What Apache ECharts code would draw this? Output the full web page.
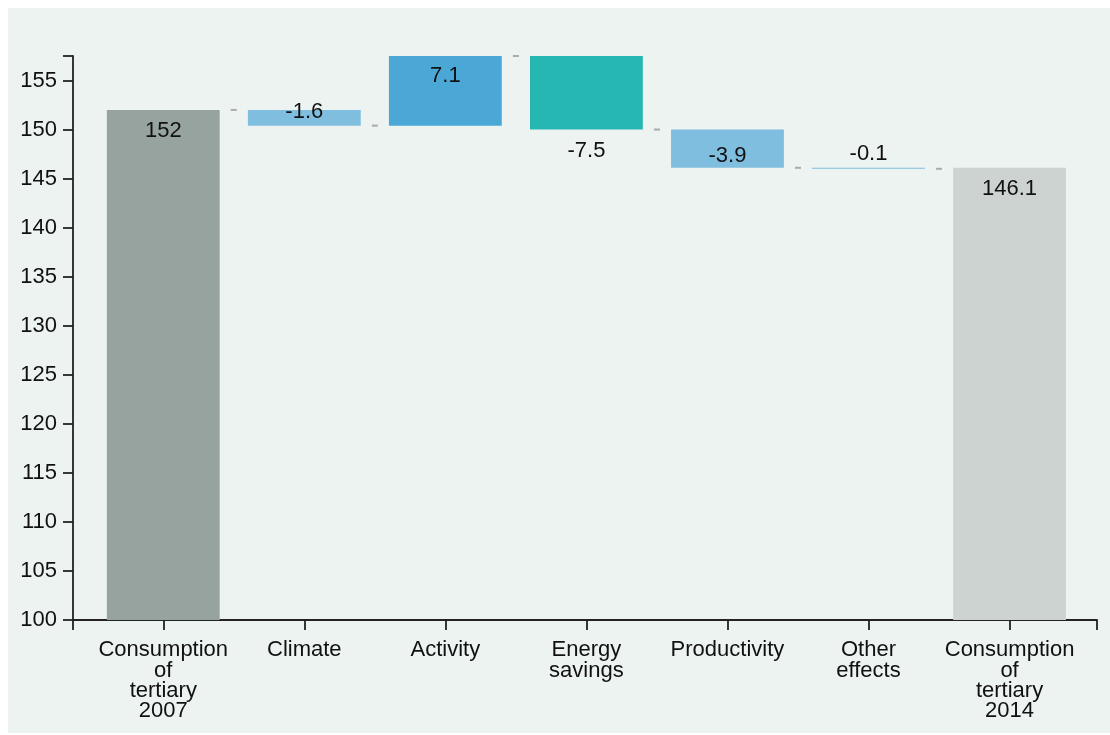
<!DOCTYPE html>
<html>
<head>
<meta charset="utf-8">
<script src="https://cdn.jsdelivr.net/npm/echarts@6/dist/echarts.min.js"></script>
<style>
html,body{margin:0;padding:0;background:#fff;}
#chart{width:1110px;height:735px;}
</style>
</head>
<body>
<div id="chart"></div>
<script>
// ---- data ----
var categories = ['Consumption\nof\ntertiary\n2007', 'Climate', 'Activity', 'Energy\nsavings', 'Productivity', 'Other\neffects', 'Consumption\nof\ntertiary\n2014'];
var startTotal = 152;
var deltas = [-1.6, 7.1, -7.5, -3.9, -0.1];
var endTotal = 146.1;
var yTicks = [100, 105, 110, 115, 120, 125, 130, 135, 140, 145, 150, 155];
var barColors = ['#97A39E', '#7FBEDF', '#4BA8D6', '#27B7B2', '#7FBEDF', '#7FBEDF', '#CDD3D1'];

// ---- derived waterfall geometry ----
var yMin = 100;
var bases = [], tops = [], labels = [], levels = [];
bases.push(yMin); tops.push(startTotal); labels.push(String(startTotal));
var run = startTotal;
levels.push(run);
deltas.forEach(function (d) {
  var next = Math.round((run + d) * 10) / 10;
  bases.push(Math.min(run, next));
  tops.push(Math.max(run, next));
  labels.push(String(d));
  run = next;
  levels.push(run);
});
bases.push(yMin); tops.push(endTotal); labels.push(String(endTotal));
var yMax = Math.max.apply(null, levels);

var labelStyles = [
  {position: 'insideTop', distance: 10},
  {position: 'inside', offset: [0, -6]},
  {position: 'insideTop', distance: 9},
  {position: 'bottom', distance: 10},
  {position: 'inside', offset: [0, 7]},
  {position: 'top', distance: 3},
  {position: 'insideTop', distance: 10}
];

var font = "'Liberation Sans', Arial, sans-serif";
var barData = bases.map(function (b, i) { return [i, b, tops[i]]; });
var connData = levels.map(function (l, i) { return [i + 0.5, l]; });

var xTickVals = [-0.64];
for (var i = 0; i < categories.length; i++) xTickVals.push(i);
xTickVals.push(6.62);

function renderBar(params, api) {
  var idx = params.dataIndex;
  var x = api.value(0);
  var p0 = api.coord([x, api.value(1)]);
  var p1 = api.coord([x, api.value(2)]);
  var w = api.size([0.8, 0])[0];
  var ls = labelStyles[idx];
  var tc = {position: ls.position, inside: ls.position.indexOf('inside') === 0};
  if (ls.distance != null) tc.distance = ls.distance;
  if (ls.offset) tc.offset = ls.offset;
  return {
    type: 'rect',
    shape: {x: p1[0] - w / 2, y: p1[1], width: w, height: p0[1] - p1[1]},
    style: {fill: barColors[idx]},
    textContent: {
      style: {text: labels[idx], fill: '#111', fontSize: 22, fontFamily: font}
    },
    textConfig: tc
  };
}

var chart = echarts.init(document.getElementById('chart'));
chart.setOption({
  animation: false,
  backgroundColor: '#ffffff',
  graphic: [{
    type: 'rect', z: -10, silent: true,
    shape: {x: 8, y: 8, width: 1102, height: 725},
    style: {fill: '#ECF3F0'}
  }],
  grid: {left: 73, right: 13, top: 56, bottom: 115, containLabel: false},
  xAxis: {
    type: 'value', min: -0.64, max: 6.62,
    splitLine: {show: false},
    axisLine: {show: true, onZero: false, lineStyle: {color: '#222', width: 1.8}},
    axisTick: {show: true, length: 10, inside: false, customValues: xTickVals, lineStyle: {color: '#222', width: 1.8}},
    axisLabel: {
      customValues: categories.map(function (c, i) { return i; }),
      formatter: function (v) { return categories[Math.round(v)]; },
      margin: 20, fontSize: 22, lineHeight: 20.3, color: '#111', fontFamily: font, align: 'center'
    }
  },
  yAxis: {
    type: 'value', min: yMin, max: yMax, interval: 5,
    splitLine: {show: false},
    axisLine: {show: true, onZero: false, lineStyle: {color: '#222', width: 1.8}},
    axisTick: {show: true, length: 10, lineStyle: {color: '#222', width: 1.8}},
    axisLabel: {
      customValues: yTicks,
      margin: 16, fontSize: 22, color: '#111', fontFamily: font
    }
  },
  series: [
    {
      type: 'custom', renderItem: renderBar, data: barData,
      encode: {x: 0, y: [1, 2]}
    },
    {
      type: 'scatter', data: connData, symbol: 'rect', symbolSize: [6, 2],
      itemStyle: {color: '#9a9a9a'}, silent: true
    }
  ]
});
</script>
</body>
</html>
